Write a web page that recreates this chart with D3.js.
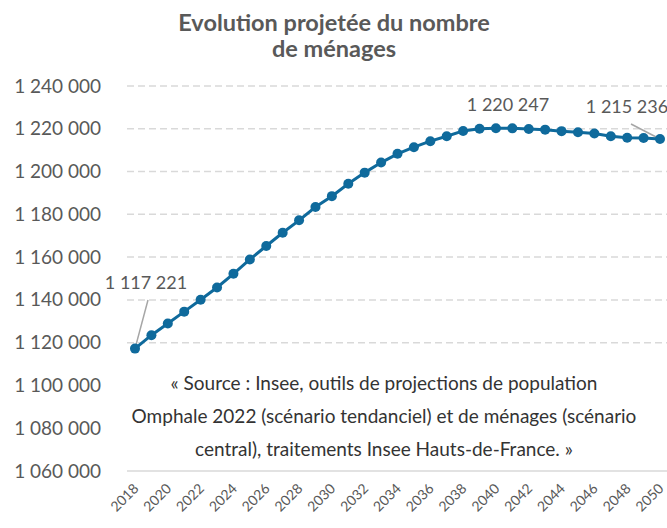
<!DOCTYPE html>
<html>
<head>
<meta charset="utf-8">
<script src="https://cdn.jsdelivr.net/npm/d3@7"></script>
<style>
  body { margin: 0; background: #fff; }
  text { font-family: Lato, "Open Sans", sans-serif; }
</style>
</head>
<body>
<div id="chart"></div>
<script>
// The svg
var width = 667;
var height = 528;

// data
var years = [2018, 2019, 2020, 2021, 2022, 2023, 2024, 2025, 2026, 2027, 2028,
    2029, 2030, 2031, 2032, 2033, 2034, 2035, 2036, 2037, 2038, 2039, 2040,
    2041, 2042, 2043, 2044, 2045, 2046, 2047, 2048, 2049, 2050];
var menages = [1117221, 1123500, 1129000, 1134500, 1140100, 1145800, 1152200,
    1158900, 1165200, 1171400, 1177200, 1183400, 1188500, 1194300, 1199500,
    1204200, 1208300, 1211400, 1214200, 1216500, 1219000, 1220000, 1220247,
    1220200, 1219900, 1219600, 1218900, 1218400, 1217800, 1216500, 1215800,
    1215700, 1215236];
var yTicks = [1060000, 1080000, 1100000, 1120000, 1140000, 1160000, 1180000,
    1200000, 1220000, 1240000];
var xLabels = years.filter(function (d) { return d % 2 === 0; });
var labelled = [2018, 2040, 2050];   // points with a data label
var titleLines = ["Evolution projetée du nombre", "de ménages"];
var sourceLines = ["« Source : Insee, outils de projections de population",
    "Omphale 2022 (scénario tendanciel) et de ménages (scénario",
    "central), traitements Insee Hauts-de-France. »"];

var fr = d3.formatLocale({ decimal: ",", thousands: "\u00a0", grouping: [3], currency: ["", ""] });
var fmt = fr.format(",d");

var data = years.map(function (y, i) { return { year: y, value: menages[i] }; });

var svg = d3.select("#chart")
    .append("svg")
    .attr("width", width)
    .attr("height", height);

// scales
var x = d3.scalePoint().domain(years).range([135, 660]);
var y = d3.scaleLinear().domain([1060000, 1240000]).range([471, 86]);

// gridlines
svg.append("g")
    .selectAll("line")
    .data(yTicks.slice(1))
    .enter()
    .append("line")
    .attr("x1", 127).attr("x2", width)
    .attr("y1", function (d) { return y(d); })
    .attr("y2", function (d) { return y(d); })
    .attr("stroke", "#d9d9d9")
    .attr("stroke-width", 1.5)
    .attr("stroke-dasharray", "7,4");

// category axis line
svg.append("line")
    .attr("x1", 127).attr("x2", width)
    .attr("y1", y(1060000)).attr("y2", y(1060000))
    .attr("stroke", "#d9d9d9")
    .attr("stroke-width", 1.5);

// y axis labels
var yAxis = d3.axisLeft(y).tickValues(yTicks).tickFormat(fmt).tickSize(0).tickPadding(0);
svg.append("g")
    .attr("transform", "translate(101,0)")
    .call(yAxis)
    .call(function (g) { g.select(".domain").remove(); })
    .selectAll("text")
    .attr("fill", "#595959")
    .style("font-size", "19px")
    .style("font-family", "Lato, sans-serif");

// x axis labels
svg.append("g")
    .selectAll("text")
    .data(xLabels)
    .enter()
    .append("text")
    .attr("transform", function (d) { return "translate(" + (x(d) + 1) + ",486) rotate(-45)"; })
    .attr("text-anchor", "end")
    .attr("dy", "0.35em")
    .attr("fill", "#595959")
    .style("font-size", "14px")
    .text(function (d) { return d; });

// title
svg.append("text")
    .attr("x", 334)
    .attr("y", 31)
    .attr("text-anchor", "middle")
    .attr("fill", "#595959")
    .style("font-size", "23.5px")
    .style("font-weight", "bold")
    .selectAll("tspan")
    .data(titleLines)
    .enter()
    .append("tspan")
    .attr("x", 334)
    .attr("dy", function (d, i) { return i === 0 ? 0 : 26; })
    .text(function (d) { return d; });

// white box behind the source text (hides the gridlines)
svg.append("rect")
    .attr("x", 112).attr("y", 368)
    .attr("width", width - 112).attr("height", 94)
    .attr("fill", "#fff");

// source text
svg.append("text")
    .attr("x", 384)
    .attr("y", 390)
    .attr("text-anchor", "middle")
    .attr("fill", "#333333")
    .style("font-size", "19px")
    .selectAll("tspan")
    .data(sourceLines)
    .enter()
    .append("tspan")
    .attr("x", 384)
    .attr("dy", function (d, i) { return i === 0 ? 0 : 33; })
    .text(function (d) { return d; });

// leader lines for the labels
var leaders = [
    { year: 2018, x2: 148, y2: 300 },
    { year: 2050, x2: 631, y2: 124 }
];
svg.append("g")
    .selectAll("line")
    .data(leaders)
    .enter()
    .append("line")
    .attr("x1", function (d) { return x(d.year); })
    .attr("y1", function (d) { return y(menages[years.indexOf(d.year)]); })
    .attr("x2", function (d) { return d.x2; })
    .attr("y2", function (d) { return d.y2; })
    .attr("stroke", "#a6a6a6")
    .attr("stroke-width", 1.5);

// the line
svg.append("path")
    .datum(data)
    .attr("fill", "none")
    .attr("stroke", "#0f6a9c")
    .attr("stroke-width", 3)
    .attr("d", d3.line()
        .x(function (d) { return x(d.year); })
        .y(function (d) { return y(d.value); }));

// markers
svg.append("g")
    .selectAll("circle")
    .data(data)
    .enter()
    .append("circle")
    .attr("cx", function (d) { return x(d.year); })
    .attr("cy", function (d) { return y(d.value); })
    .attr("r", 5)
    .attr("fill", "#0f6a9c");

// data labels
var labelPos = { 2018: [146, 289], 2040: [508, 111], 2050: [627, 113] };
svg.append("g")
    .selectAll("text")
    .data(data.filter(function (d) { return labelled.indexOf(d.year) >= 0; }))
    .enter()
    .append("text")
    .attr("x", function (d) { return labelPos[d.year][0]; })
    .attr("y", function (d) { return labelPos[d.year][1]; })
    .attr("text-anchor", "middle")
    .attr("fill", "#595959")
    .style("font-size", "18px")
    .text(function (d) { return fmt(d.value); });
</script>
</body>
</html>
